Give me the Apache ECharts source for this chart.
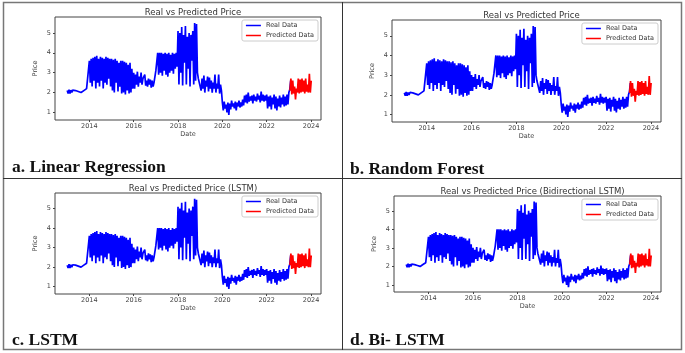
<!DOCTYPE html>
<html>
<head>
<meta charset="utf-8">
<script src="https://cdn.jsdelivr.net/npm/echarts@6/dist/echarts.min.js"></script>
<style>
  html, body { margin: 0; padding: 0; background: #fff; }
  #chart { width: 685px; height: 353px; }
</style>
</head>
<body>
<div id="chart"></div>
<script>
// real price, 24 samples a year from 2013.0
var realStart = 2013.0;
var realStep = 1 / 24;
var real2013 = [2.1, 1.95, 2.15, 1.95, 2.12, 2.0, 2.12, 2.1, 2.1, 2.1, 2.05, 2.0, 2.05, 1.98, 2.05, 2.0, 2.05, 2.0, 2.1, 2.08, 2.15, 2.2, 2.25, 2.3];
var real2014 = [3.6, 2.5, 3.7, 2.3, 3.75, 2.6, 3.8, 2.2, 3.85, 2.5, 3.7, 2.3, 3.8, 2.6, 3.75, 2.2, 3.7, 2.5, 3.8, 2.4, 3.75, 2.7, 3.7, 2.3];
var real2015 = [3.7, 2.1, 3.65, 2.0, 3.7, 2.5, 3.6, 2.05, 3.5, 2.3, 3.6, 1.95, 3.6, 2.0, 3.55, 1.9, 3.5, 2.1, 3.4, 1.95, 3.5, 2.0, 3.2, 2.2];
var real2016 = [3.0, 2.2, 2.9, 2.4, 3.05, 2.3, 2.8, 2.5, 3.0, 2.4, 2.7, 2.6, 2.9, 2.35, 2.6, 2.3, 2.7, 2.4, 2.65, 2.25, 2.6, 2.3, 2.5, 2.4];
var real2017 = [3.1, 3.2, 4.0, 2.9, 4.0, 3.0, 4.0, 2.85, 3.95, 3.1, 4.0, 2.9, 3.95, 2.8, 4.0, 3.0, 3.9, 3.1, 4.0, 2.95, 3.95, 3.2, 4.0, 3.3];
var real2018 = [5.1, 2.4, 5.0, 3.0, 5.3, 2.35, 4.9, 3.5, 5.35, 2.4, 4.8, 3.2, 5.0, 2.3, 4.9, 3.6, 5.1, 2.4, 5.5, 2.6, 5.45, 3.0, 2.7, 2.6];
var real2019 = [2.8, 2.1, 2.7, 2.2, 2.85, 2.0, 2.6, 2.3, 2.8, 2.05, 2.75, 2.2, 2.6, 2.0, 2.5, 2.2, 2.9, 2.0, 2.45, 2.2, 2.9, 1.95, 2.4, 2.1];
var real2020 = [1.5, 1.1, 1.55, 1.2, 1.4, 1.0, 1.5, 0.88, 1.45, 1.15, 1.6, 1.3, 1.45, 1.2, 1.55, 1.1, 1.5, 1.3, 1.6, 1.25, 1.5, 1.3, 1.65, 1.35];
var real2021 = [1.85, 1.5, 1.9, 1.45, 2.0, 1.55, 1.8, 1.6, 1.85, 1.45, 1.9, 1.6, 1.8, 1.55, 1.95, 1.65, 1.85, 1.5, 2.05, 1.6, 1.9, 1.55, 1.85, 1.6];
var real2022 = [1.9, 1.2, 1.8, 1.3, 1.85, 1.15, 1.75, 1.4, 1.9, 1.2, 1.8, 1.1, 1.7, 1.3, 1.85, 1.25, 1.75, 1.4, 1.9, 1.3, 1.8, 1.35, 1.9, 1.4];
var real2023 = [2.0, 2.15, 2.6];

// predicted price, 24 samples a year from 2023.05
var predStart = 2023.05;
var predStep = 1 / 24;
var predValues = [2.1, 2.7, 1.9, 2.6, 1.95, 2.3, 1.65, 2.2, 2.0, 2.7, 1.95, 2.65, 2.0, 2.7, 2.05, 2.6, 1.95, 2.7, 2.05, 2.4, 2.0, 2.95, 2.0, 2.6];

var yearTicks = [2014, 2016, 2018, 2020, 2022, 2024];
var priceTicks = [1, 2, 3, 4, 5];

var panelTitles = ['Real vs Predicted Price', 'Real vs Predicted Price', 'Real vs Predicted Price (LSTM)', 'Real vs Predicted Price (Bidirectional LSTM)'];
var panelLabels = ['a. Linear Regression', 'b. Random Forest', 'c. LSTM', 'd. Bi- LSTM'];

var realValues = [].concat(real2013, real2014, real2015, real2016, real2017, real2018, real2019, real2020, real2021, real2022, real2023);
var realData = realValues.map(function (v, i) { return [realStart + i * realStep, v]; });
var predData = predValues.map(function (v, i) { return [predStart + i * predStep, v]; });

// plot boxes [left, top, width, height]
var boxes = [
  [55, 17, 266, 103],
  [392, 20, 269, 102],
  [55, 193, 266, 101],
  [394, 196, 267, 96]
];
var labelPos = [[12, 168], [350, 170], [12, 341], [350, 341]];

var tickFont = { fontFamily: 'DejaVu Sans', fontSize: 6.5, color: '#444' };

var option = {
  backgroundColor: '#fff',
  animation: false,
  title: [],
  legend: [],
  grid: [],
  xAxis: [],
  yAxis: [],
  series: [],
  graphic: []
};

boxes.forEach(function (b, k) {
  option.grid.push({
    left: b[0], top: b[1], width: b[2], height: b[3],
    show: true, borderColor: '#444', borderWidth: 1, backgroundColor: '#fff'
  });
  option.title.push({
    text: panelTitles[k],
    left: b[0] + b[2] / 2, top: b[1] - 14, textAlign: 'center',
    textStyle: { fontFamily: 'DejaVu Sans', fontSize: 8.5, fontWeight: 'normal', color: '#333' }
  });
  option.xAxis.push({
    type: 'value', gridIndex: k, min: 2012.45, max: 2024.45,
    name: 'Date', nameLocation: 'middle', nameGap: 11,
    nameTextStyle: tickFont,
    splitLine: { show: false },
    axisLine: { show: false },
    axisTick: { show: true, length: 2, customValues: yearTicks, lineStyle: { color: '#444' } },
    axisLabel: Object.assign({
      customValues: yearTicks, margin: 3,
      formatter: function (v) { return String(v); }
    }, tickFont)
  });
  option.yAxis.push({
    type: 'value', gridIndex: k, min: 0.62, max: 5.8,
    name: 'Price', nameLocation: 'middle', nameGap: 16, nameRotate: 90,
    nameTextStyle: tickFont,
    splitLine: { show: false },
    axisLine: { show: false },
    axisTick: { show: true, length: 2, customValues: priceTicks, lineStyle: { color: '#444' } },
    axisLabel: Object.assign({ customValues: priceTicks, margin: 4 }, tickFont)
  });
  option.series.push({
    name: 'Real Data', type: 'line', xAxisIndex: k, yAxisIndex: k,
    data: realData, symbol: 'none', lineStyle: { color: '#0000ff', width: 1.7 }, itemStyle: { color: '#0000ff' }
  });
  option.series.push({
    name: 'Predicted Data', type: 'line', xAxisIndex: k, yAxisIndex: k,
    data: predData, symbol: 'none', lineStyle: { color: '#ff0000', width: 1.7 }, itemStyle: { color: '#ff0000' }
  });
  option.legend.push({
    data: [{ name: 'Real Data', icon: 'rect' }, { name: 'Predicted Data', icon: 'rect' }],
    orient: 'vertical',
    right: 685 - (b[0] + b[2]) + 3, top: b[1] + 3,
    itemWidth: 15, itemHeight: 1.5, itemGap: 3,
    padding: [2, 4], borderColor: '#ccc', borderWidth: 1, borderRadius: 2,
    backgroundColor: '#fff',
    textStyle: { fontFamily: 'DejaVu Sans', fontSize: 6.5, color: '#333' }
  });
  option.graphic.push({
    type: 'text', left: labelPos[k][0], top: labelPos[k][1] - 10,
    style: { text: panelLabels[k], font: 'bold 17.5px "Liberation Serif"', fill: '#111' }
  });
});

// table lines
option.graphic.push(
  { type: 'rect', shape: { x: 3.5, y: 2.5, width: 678, height: 347 }, style: { fill: 'none', stroke: '#777', lineWidth: 1.5 } },
  { type: 'line', shape: { x1: 342.5, y1: 2, x2: 342.5, y2: 350 }, style: { stroke: '#333', lineWidth: 1 } },
  { type: 'line', shape: { x1: 3, y1: 178.5, x2: 682, y2: 178.5 }, style: { stroke: '#333', lineWidth: 1 } }
);

var myChart = echarts.init(document.getElementById('chart'));
myChart.setOption(option);
</script>
</body>
</html>
